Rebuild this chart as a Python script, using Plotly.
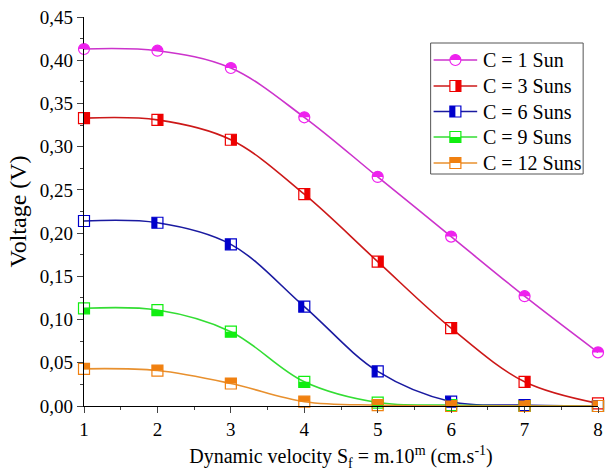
import math
import plotly.graph_objects as go

x_vals = [1, 2, 3, 4, 5, 6, 7, 8]
v_1sun = [0.413, 0.411, 0.391, 0.334, 0.265, 0.196, 0.127, 0.062]
v_3suns = [0.333, 0.331, 0.308, 0.245, 0.167, 0.090, 0.028, 0.003]
v_6suns = [0.214, 0.212, 0.187, 0.115, 0.040, 0.005, 0.001, 0.000]
v_9suns = [0.113, 0.111, 0.086, 0.028, 0.004, 0.001, 0.000, 0.000]
v_12suns = [0.043, 0.041, 0.026, 0.005, 0.001, 0.000, 0.000, 0.000]
names = ["C = 1 Sun", "C = 3 Suns", "C = 6 Suns", "C = 9 Suns", "C = 12 Suns"]
series = [v_1sun, v_3suns, v_6suns, v_9suns, v_12suns]
y_range = [0, 0.45]
x_range = [1, 8]

line_colors = ["#cc33cc", "#cc1818", "#1a1aa0", "#33dd33", "#e8902e"]
fill_colors = ["#ee22ee", "#ee0000", "#0000cc", "#11ee11", "#f08010"]
kinds = ["circle", "square", "square", "square", "square"]
halves = ["top", "right", "left", "bottom", "top"]

FONT = "Liberation Serif, Times New Roman, serif"
W, H = 606, 474
ML, MR, MT, MB = 84, 3, 17, 68
PW, PH = W - ML - MR, H - MT - MB
R = 5.5


def semicircle_path(r):
    pts = []
    n = 16
    for i in range(n + 1):
        a = math.pi * i / n
        pts.append((r * math.cos(a), r * math.sin(a)))
    return "M " + " L ".join(f"{x:.3f},{y:.3f}" for x, y in pts) + " Z"


def half_shape(kind, half):
    if kind == "circle":
        return dict(type="path", path=semicircle_path(R))
    box = {"top": (-R, R, 0, R), "bottom": (-R, R, -R, 0),
           "right": (0, R, -R, R), "left": (-R, 0, -R, R)}[half]
    return dict(type="rect", x0=box[0], x1=box[1], y0=box[2], y1=box[3])


def outline_shape(kind):
    t = "circle" if kind == "circle" else "rect"
    return dict(type=t, x0=-R, x1=R, y0=-R, y1=R)


fig = go.Figure()
shapes = []
for name, ys, lc, fc, kind, half in zip(names, series, line_colors, fill_colors, kinds, halves):
    sym = "circle-open" if kind == "circle" else "square-open"
    fig.add_trace(go.Scatter(
        x=x_vals, y=ys, name=name, mode="lines+markers", showlegend=False,
        line=dict(color=lc, width=1.6, shape="spline", smoothing=1.0),
        marker=dict(symbol=sym, size=11, color=fc, line=dict(width=1.2, color=fc)),
        cliponaxis=False,
    ))
    for xv, yv in zip(x_vals, ys):
        s = half_shape(kind, half)
        if kind == "circle":
            # path shapes in pixel mode: anchor via axis-domain fractions
            s.update(xref="x domain", yref="y domain",
                     xanchor=(xv - x_range[0]) / (x_range[1] - x_range[0]),
                     yanchor=(yv - y_range[0]) / (y_range[1] - y_range[0]))
        else:
            s.update(xref="x", yref="y", xanchor=xv, yanchor=yv)
        s.update(xsizemode="pixel", ysizemode="pixel",
                 fillcolor=fc, line=dict(width=0), layer="above")
        shapes.append(s)


def px_x(p):
    return (p - ML) / PW


def px_y(p):
    return (H - MB - p) / PH


annotations = []
box_l, box_r, box_t, box_b = 434, 588, 43, 174
shapes.append(dict(type="rect", xref="paper", yref="paper", x0=px_x(box_l), x1=px_x(box_r),
                   y0=px_y(box_b), y1=px_y(box_t), line=dict(color="#555555", width=1),
                   fillcolor="white", layer="above"))
row_y = [60, 86, 111.5, 137, 163]
for name, lc, fc, kind, half, ry in zip(names, line_colors, fill_colors, kinds, halves, row_y):
    shapes.append(dict(type="line", xref="paper", yref="paper", x0=px_x(437), x1=px_x(481),
                       y0=px_y(ry), y1=px_y(ry), line=dict(color=lc, width=1.6), layer="above"))
    o = outline_shape(kind)
    o.update(xref="paper", yref="paper", xsizemode="pixel", ysizemode="pixel",
             xanchor=px_x(459), yanchor=px_y(ry), fillcolor="white",
             line=dict(color=fc, width=1.2), layer="above")
    shapes.append(o)
    s = half_shape(kind, half)
    s.update(xref="paper", yref="paper", xsizemode="pixel", ysizemode="pixel",
             xanchor=px_x(459), yanchor=px_y(ry), fillcolor=fc, line=dict(width=0), layer="above")
    shapes.append(s)
    annotations.append(dict(text=name, xref="paper", yref="paper", x=px_x(485), y=px_y(ry),
                            xanchor="left", yanchor="middle", showarrow=False,
                            font=dict(family=FONT, size=20, color="black")))

fig.update_layout(
    width=W, height=H,
    margin=dict(l=ML, r=MR, t=MT, b=MB),
    paper_bgcolor="white", plot_bgcolor="white",
    separators=",.",
    font=dict(family=FONT, size=19, color="black"),
    showlegend=False,
    shapes=shapes, annotations=annotations,
)
fig.update_xaxes(range=x_range, tickvals=x_vals, ticks="outside", ticklen=6, tickwidth=1.2,
                 showline=True, linecolor="black", linewidth=1.2, showgrid=False, zeroline=False,
                 minor=dict(ticks="outside", ticklen=3, tickwidth=1, dtick=0.5),
                 tickfont=dict(size=19), ticklabeloverflow="allow",
                 title=dict(text="Dynamic velocity S<sub>f</sub> = m.10<sup>m</sup> (cm.s<sup>-1</sup>)",
                            font=dict(size=20), standoff=10))
fig.update_yaxes(range=y_range, dtick=0.05, tickformat=".2f", ticks="outside", ticklen=6, tickwidth=1.2,
                 showline=True, linecolor="black", linewidth=1.2, showgrid=False, zeroline=False,
                 minor=dict(ticks="outside", ticklen=3, tickwidth=1, dtick=0.025),
                 tickfont=dict(size=19),
                 title=dict(text="Voltage (V)", font=dict(size=24), standoff=6))

fig.write_html("out.html")
